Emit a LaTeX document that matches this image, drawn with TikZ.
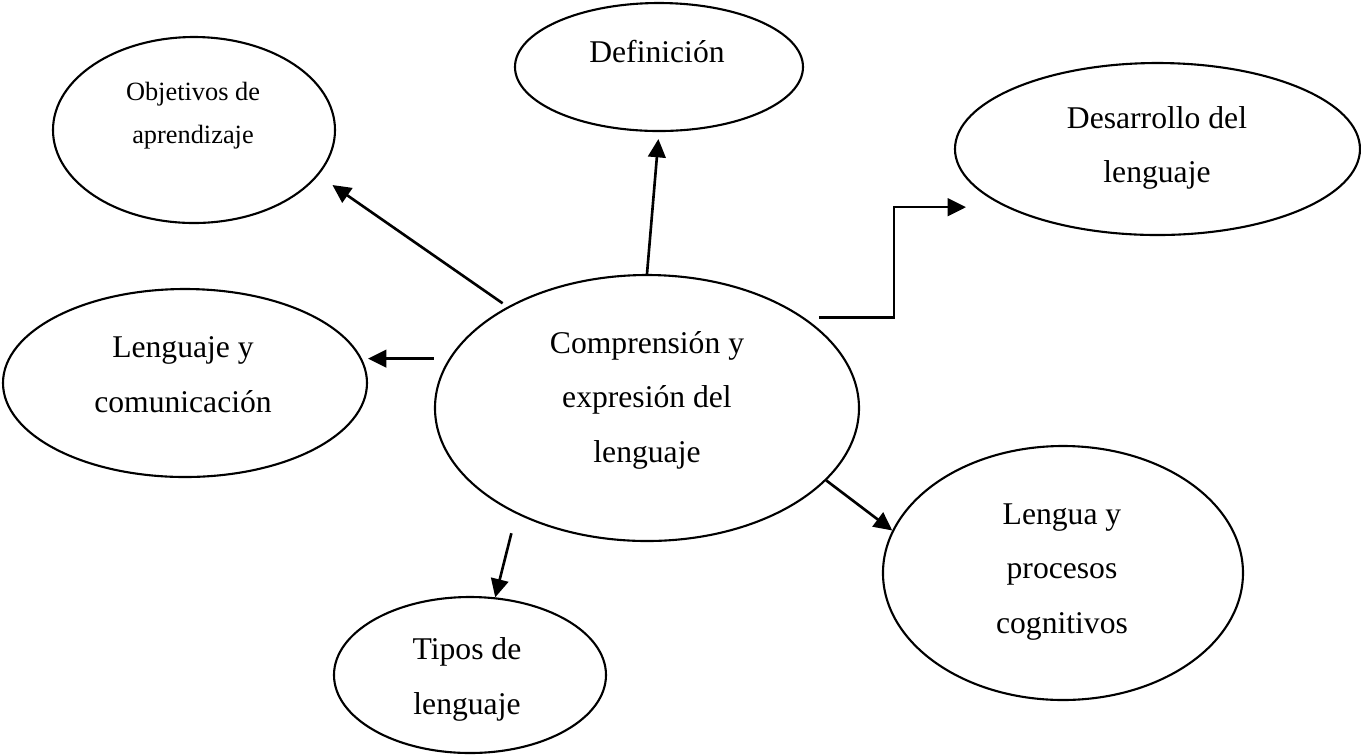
\documentclass[tikz,border=0pt]{standalone}
\usepackage{fontspec}
\setmainfont{Liberation Serif}
\usepackage{tikz}
\usetikzlibrary{arrows.meta, shapes.geometric}
\tikzset{
    bubble/.style={
        ellipse, draw,
        line width=0.6pt,
        inner sep=0pt
    },
    caption/.style={
        align=center,
        inner sep=0pt,
        font=\fontsize{9}{15.5}\selectfont
    },
    small caption/.style={
        caption,
        font=\fontsize{7.5}{12.2}\selectfont
    },
    link/.style={
        line width=0.75pt,
        -{Triangle[length=5.2pt, width=5pt]},
    },
}

\begin{document}
\begin{tikzpicture}[y=-1cm]
        \useasboundingbox (0,0) rectangle (13.61,7.55);

        % the ellipses
        \node[bubble, minimum width=4.24cm, minimum height=2.66cm] (core) at (6.47,4.08) {};
        \node[bubble, minimum width=2.82cm, minimum height=1.86cm] (goals) at (1.94,1.30) {};
        \node[bubble, minimum width=2.88cm, minimum height=1.28cm] (def) at (6.59,0.67) {};
        \node[bubble, minimum width=4.05cm, minimum height=1.72cm] (dev) at (11.575,1.49) {};
        \node[bubble, minimum width=3.64cm, minimum height=1.88cm] (lang) at (1.85,3.83) {};
        \node[bubble, minimum width=3.60cm, minimum height=2.54cm] (cog) at (10.63,5.73) {};
        \node[bubble, minimum width=2.72cm, minimum height=1.56cm] (types) at (4.70,6.75) {};

        % their texts
        \node[caption] (coreT) at (6.47,4.00) {Comprensión y\\expresión del\\lenguaje};
        \node[small caption] (goalsT) at (1.93,1.155) {Objetivos de\\aprendizaje};
        \node[caption] (defT) at (6.57,0.52) {Definición};
        \node[caption] (devT) at (11.57,1.48) {Desarrollo del\\lenguaje};
        \node[caption] (langT) at (1.83,3.745) {Lenguaje y\\comunicación};
        \node[caption] (cogT) at (10.62,5.72) {Lengua y\\procesos\\cognitivos};
        \node[caption] (typesT) at (4.67,6.795) {Tipos de\\lenguaje};

        % the arrows
        \draw[link, shorten <=0.6mm, shorten >=1.7mm] (core.144) -- (goals.-20.5);
        \draw[link, shorten >=0.7mm] (core.north) -- (def.south);
        \draw[link, shorten <=1.5mm] (core.30) -- ++(0.9,0) |- ([xshift=-4mm]dev.201);
        \draw[link, shorten <=1.5mm] (core.166) -- (core.166 -| lang.east);
        \draw[link] (core.-22) -- (cog.166);
        \draw[link, shorten <=2mm] (core.-141) -- (types.72);
\end{tikzpicture}
\end{document}
